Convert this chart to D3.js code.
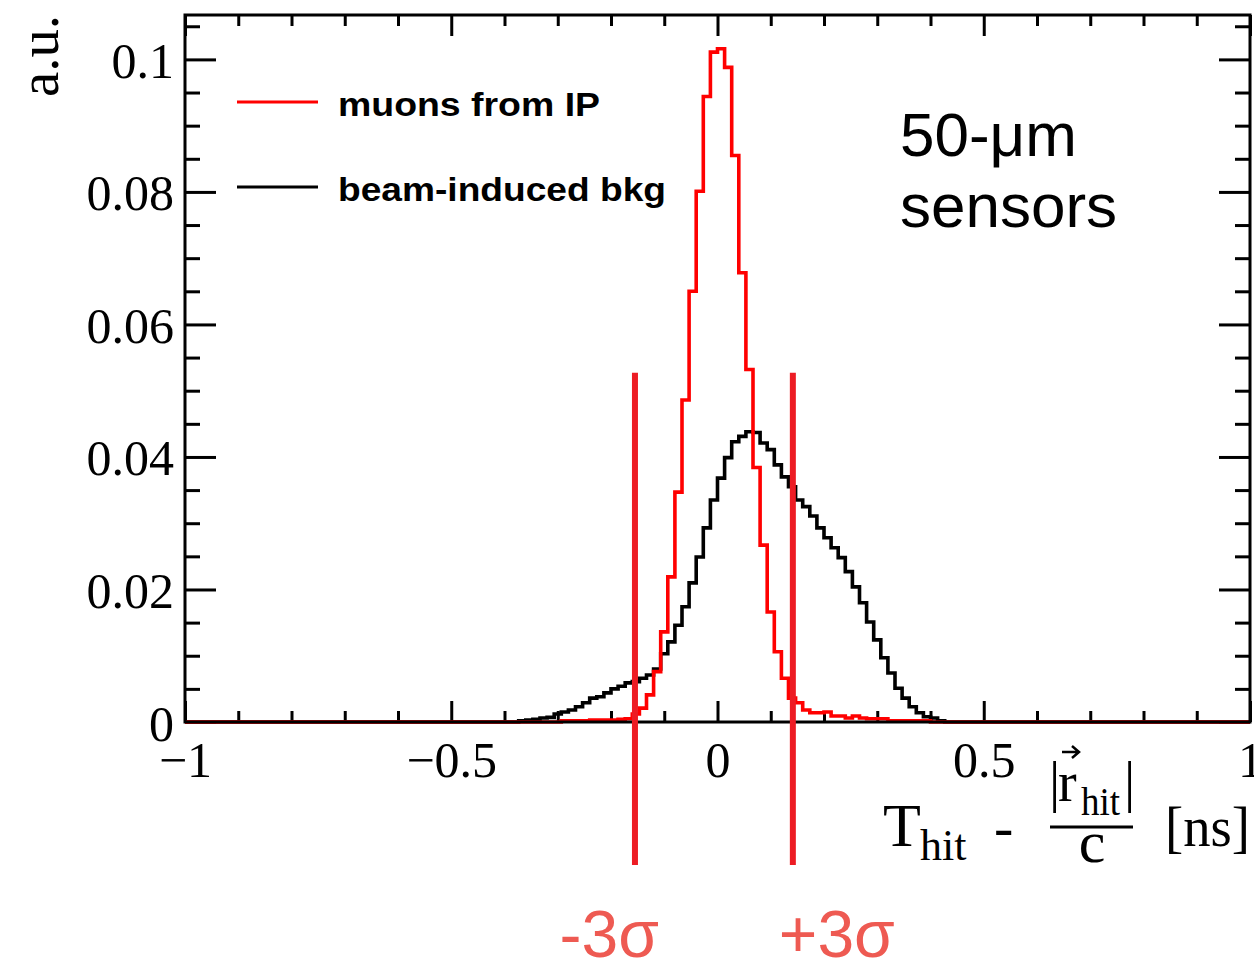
<!DOCTYPE html>
<html>
<head>
<meta charset="utf-8">
<script src="https://cdn.jsdelivr.net/npm/d3@7"></script>
<style>
  body { margin: 0; background: #fff; }
  svg { display: block; }
  .serif { font-family: "Liberation Serif", "Times New Roman", serif; }
  .sans { font-family: "Liberation Sans", Arial, sans-serif; }
</style>
</head>
<body>
<div id="chart"></div>
<script>
// histogram binning: 150 bins over [-1, 1] ns
const binCount = 150;
const xDomain = [-1, 1];

// muons from IP, bins starting at index 53
const muonFirstBin = 53;
const muonValues = [
  0.0002, 0.0002, 0.0002, 0.0002, 0.0003, 0.0003, 0.0003, 0.0003, 0.0004,
  0.0005, 0.0012, 0.0021, 0.0041, 0.0076, 0.0136, 0.0219, 0.0347, 0.0486,
  0.0650, 0.0801, 0.0944, 0.1011, 0.1016, 0.0988, 0.0855, 0.0678, 0.0532,
  0.0384, 0.0267, 0.0166, 0.0106, 0.0066, 0.0036, 0.0029, 0.0018, 0.0014,
  0.0014, 0.0015, 0.0009, 0.0009, 0.0006, 0.0009, 0.0006, 0.0005, 0.0005,
  0.0005, 0.0002, 0.0002, 0.0002, 0.0002, 0.0002, 0.0002
];

// beam-induced background, bins starting at index 47
const bkgFirstBin = 47;
const bkgValues = [
  0.0002, 0.0003, 0.0004, 0.0006, 0.0007, 0.0012, 0.0015, 0.0018, 0.0023,
  0.0029, 0.0036, 0.0038, 0.0044, 0.0050, 0.0054, 0.0059, 0.0061, 0.0066,
  0.0071, 0.0080, 0.0103, 0.0121, 0.0146, 0.0174, 0.0210, 0.0249, 0.0293,
  0.0335, 0.0368, 0.0399, 0.0423, 0.0431, 0.0438, 0.0437, 0.0421, 0.0411,
  0.0388, 0.0370, 0.0355, 0.0335, 0.0325, 0.0311, 0.0293, 0.0278, 0.0263,
  0.0248, 0.0227, 0.0204, 0.0180, 0.0151, 0.0124, 0.0097, 0.0074, 0.0051,
  0.0036, 0.0023, 0.0014, 0.0008, 0.0006, 0.0002
];

const xTicks = [-1, -0.5, 0, 0.5, 1];
const xTickLabels = ["\u22121", "\u22120.5", "0", "0.5", "1"];
const yTicks = [0, 0.02, 0.04, 0.06, 0.08, 0.1];
const yTickLabels = ["0", "0.02", "0.04", "0.06", "0.08", "0.1"];

// +-3 sigma window markers
const sigmaCuts = [-0.155, 0.1415];
const sigmaLabels = ["-3\u03c3", "+3\u03c3"];
const sigmaTop = 0.0527;

const W = 1254, H = 965;
const frame = { left: 185, right: 1250, top: 15, bottom: 722 };

const svg = d3.select("#chart").append("svg")
  .attr("width", W)
  .attr("height", H);

svg.append("rect").attr("width", W).attr("height", H).attr("fill", "#fff");

const x = d3.scaleLinear().domain(xDomain).range([frame.left, frame.right]);
const y = d3.scaleLinear().domain([0, 0.1067]).range([frame.bottom, frame.top]);

const xMinor = d3.range(-0.9, 0.95, 0.1).filter(v => Math.abs(v * 2 - Math.round(v * 2)) > 1e-6);
const yMinor = d3.range(0.005, 0.106, 0.005).filter(v => Math.abs(v * 50 - Math.round(v * 50)) > 1e-6);

const fw = frame.right - frame.left, fh = frame.bottom - frame.top;
const xMajorLen = 21, xMinorLen = 11, yMajorLen = 31, yMinorLen = 15;

function styleAxis(g) {
  g.select(".domain").remove();
  g.selectAll(".tick line").attr("stroke", "#000").attr("stroke-width", 3);
}

// bottom axis with labels
svg.append("g")
  .attr("transform", `translate(0,${frame.bottom})`)
  .call(d3.axisBottom(x).tickValues(xTicks).tickSizeInner(-xMajorLen).tickSizeOuter(0)
    .tickPadding(19).tickFormat((d, i) => xTickLabels[i]))
  .call(styleAxis)
  .call(g => g.selectAll("text").attr("class", "serif").attr("font-size", 50).attr("fill", "#000"));

svg.append("g")
  .attr("transform", `translate(0,${frame.bottom})`)
  .call(d3.axisBottom(x).tickValues(xMinor).tickSizeInner(-xMinorLen).tickSizeOuter(0).tickFormat(""))
  .call(styleAxis);

// top mirror ticks
svg.append("g")
  .attr("transform", `translate(0,${frame.top})`)
  .call(d3.axisTop(x).tickValues(xTicks).tickSizeInner(-xMajorLen).tickSizeOuter(0).tickFormat(""))
  .call(styleAxis);
svg.append("g")
  .attr("transform", `translate(0,${frame.top})`)
  .call(d3.axisTop(x).tickValues(xMinor).tickSizeInner(-xMinorLen).tickSizeOuter(0).tickFormat(""))
  .call(styleAxis);

// left axis with labels
svg.append("g")
  .attr("transform", `translate(${frame.left},0)`)
  .call(d3.axisLeft(y).tickValues(yTicks).tickSizeInner(-yMajorLen).tickSizeOuter(0)
    .tickPadding(11).tickFormat((d, i) => yTickLabels[i]))
  .call(styleAxis)
  .call(g => g.selectAll("text").attr("class", "serif").attr("font-size", 50)
    .attr("fill", "#000").attr("dy", "0.36em"));

svg.append("g")
  .attr("transform", `translate(${frame.left},0)`)
  .call(d3.axisLeft(y).tickValues(yMinor).tickSizeInner(-yMinorLen).tickSizeOuter(0).tickFormat(""))
  .call(styleAxis);

// right mirror ticks
svg.append("g")
  .attr("transform", `translate(${frame.right},0)`)
  .call(d3.axisRight(y).tickValues(yTicks).tickSizeInner(-yMajorLen).tickSizeOuter(0).tickFormat(""))
  .call(styleAxis);
svg.append("g")
  .attr("transform", `translate(${frame.right},0)`)
  .call(d3.axisRight(y).tickValues(yMinor).tickSizeInner(-yMinorLen).tickSizeOuter(0).tickFormat(""))
  .call(styleAxis);

// histograms as step outlines
const binWidth = (xDomain[1] - xDomain[0]) / binCount;

function stepPoints(first, values) {
  const full = new Array(binCount).fill(0);
  values.forEach((v, i) => { full[first + i] = v; });
  const pts = [[xDomain[0], 0]];
  full.forEach((v, i) => {
    const x0 = xDomain[0] + i * binWidth;
    pts.push([x0, v], [x0 + binWidth, v]);
  });
  pts.push([xDomain[1], 0]);
  return pts;
}

const line = d3.line().x(d => x(d[0])).y(d => y(d[1]));

svg.append("path")
  .attr("d", line(stepPoints(bkgFirstBin, bkgValues)))
  .attr("fill", "none")
  .attr("stroke", "#000")
  .attr("stroke-width", 3.6);

svg.append("path")
  .attr("d", line(stepPoints(muonFirstBin, muonValues)))
  .attr("fill", "none")
  .attr("stroke", "#ff0000")
  .attr("stroke-width", 3.6);

// frame
svg.append("rect")
  .attr("x", frame.left).attr("y", frame.top)
  .attr("width", fw).attr("height", fh)
  .attr("fill", "none").attr("stroke", "#000").attr("stroke-width", 3);

// y title
svg.append("text")
  .attr("class", "serif")
  .attr("transform", "translate(58,15) rotate(-90)")
  .attr("text-anchor", "end")
  .attr("font-size", 56)
  .attr("textLength", 82)
  .attr("lengthAdjust", "spacingAndGlyphs")
  .text("a.u.");

// x title: T_hit - |r_hit|/c [ns]
const xt = svg.append("g").attr("class", "serif").attr("fill", "#000");
xt.append("text").attr("x", 883).attr("y", 846).attr("font-size", 62).text("T");
xt.append("text").attr("x", 920).attr("y", 860).attr("font-size", 44).text("hit");
xt.append("text").attr("x", 994).attr("y", 846).attr("font-size", 58).text("-");
xt.append("text").attr("x", 1049).attr("y", 801).attr("font-size", 56).text("|");
xt.append("text").attr("x", 1058).attr("y", 801).attr("font-size", 56).text("r");
xt.append("path").attr("d", "M1062,752 L1078,752 M1072,746 L1079,752 L1072,758")
  .attr("fill", "none").attr("stroke", "#000").attr("stroke-width", 2.5);
xt.append("text").attr("x", 1081).attr("y", 815).attr("font-size", 40)
  .attr("textLength", 39).attr("lengthAdjust", "spacingAndGlyphs").text("hit");
xt.append("text").attr("x", 1124).attr("y", 801).attr("font-size", 56).text("|");
xt.append("line").attr("x1", 1050).attr("x2", 1133).attr("y1", 827).attr("y2", 827)
  .attr("stroke", "#000").attr("stroke-width", 3);
xt.append("text").attr("x", 1092).attr("y", 862).attr("text-anchor", "middle")
  .attr("font-size", 60).text("c");
xt.append("text").attr("x", 1165).attr("y", 846).attr("font-size", 58)
  .attr("textLength", 85).attr("lengthAdjust", "spacingAndGlyphs").text("[ns]");

// legend
const legend = [
  { label: "muons from IP", color: "#ff0000", yy: 102, len: 262 },
  { label: "beam-induced bkg", color: "#000", yy: 187, len: 328 }
];
const lg = svg.append("g").selectAll("g").data(legend).join("g");
lg.append("line")
  .attr("x1", 237).attr("x2", 318)
  .attr("y1", d => d.yy).attr("y2", d => d.yy)
  .attr("stroke", d => d.color).attr("stroke-width", 3);
lg.append("text")
  .attr("class", "sans")
  .attr("x", 338).attr("y", d => d.yy + 14)
  .attr("font-size", 34).attr("font-weight", "bold")
  .attr("textLength", d => d.len).attr("lengthAdjust", "spacingAndGlyphs")
  .text(d => d.label);

// sensor annotation
const ann = svg.append("text").attr("class", "sans").attr("font-size", 62).attr("fill", "#000");
ann.append("tspan").attr("x", 900).attr("y", 156).text("50-\u03bcm");
ann.append("tspan").attr("x", 900).attr("y", 227).text("sensors");

// sigma window lines and labels
svg.append("g").selectAll("line").data(sigmaCuts).join("line")
  .attr("x1", d => x(d)).attr("x2", d => x(d))
  .attr("y1", y(sigmaTop)).attr("y2", 865)
  .attr("stroke", "#ed1c24").attr("stroke-width", 6);

svg.append("g").selectAll("text").data(sigmaCuts).join("text")
  .attr("class", "sans")
  .attr("x", (d, i) => i === 0 ? x(d) + 24 : x(d) - 14)
  .attr("y", 957)
  .attr("text-anchor", (d, i) => i === 0 ? "end" : "start")
  .attr("font-size", 66)
  .attr("fill", "#ee5a52")
  .text((d, i) => sigmaLabels[i]);
</script>
</body>
</html>
